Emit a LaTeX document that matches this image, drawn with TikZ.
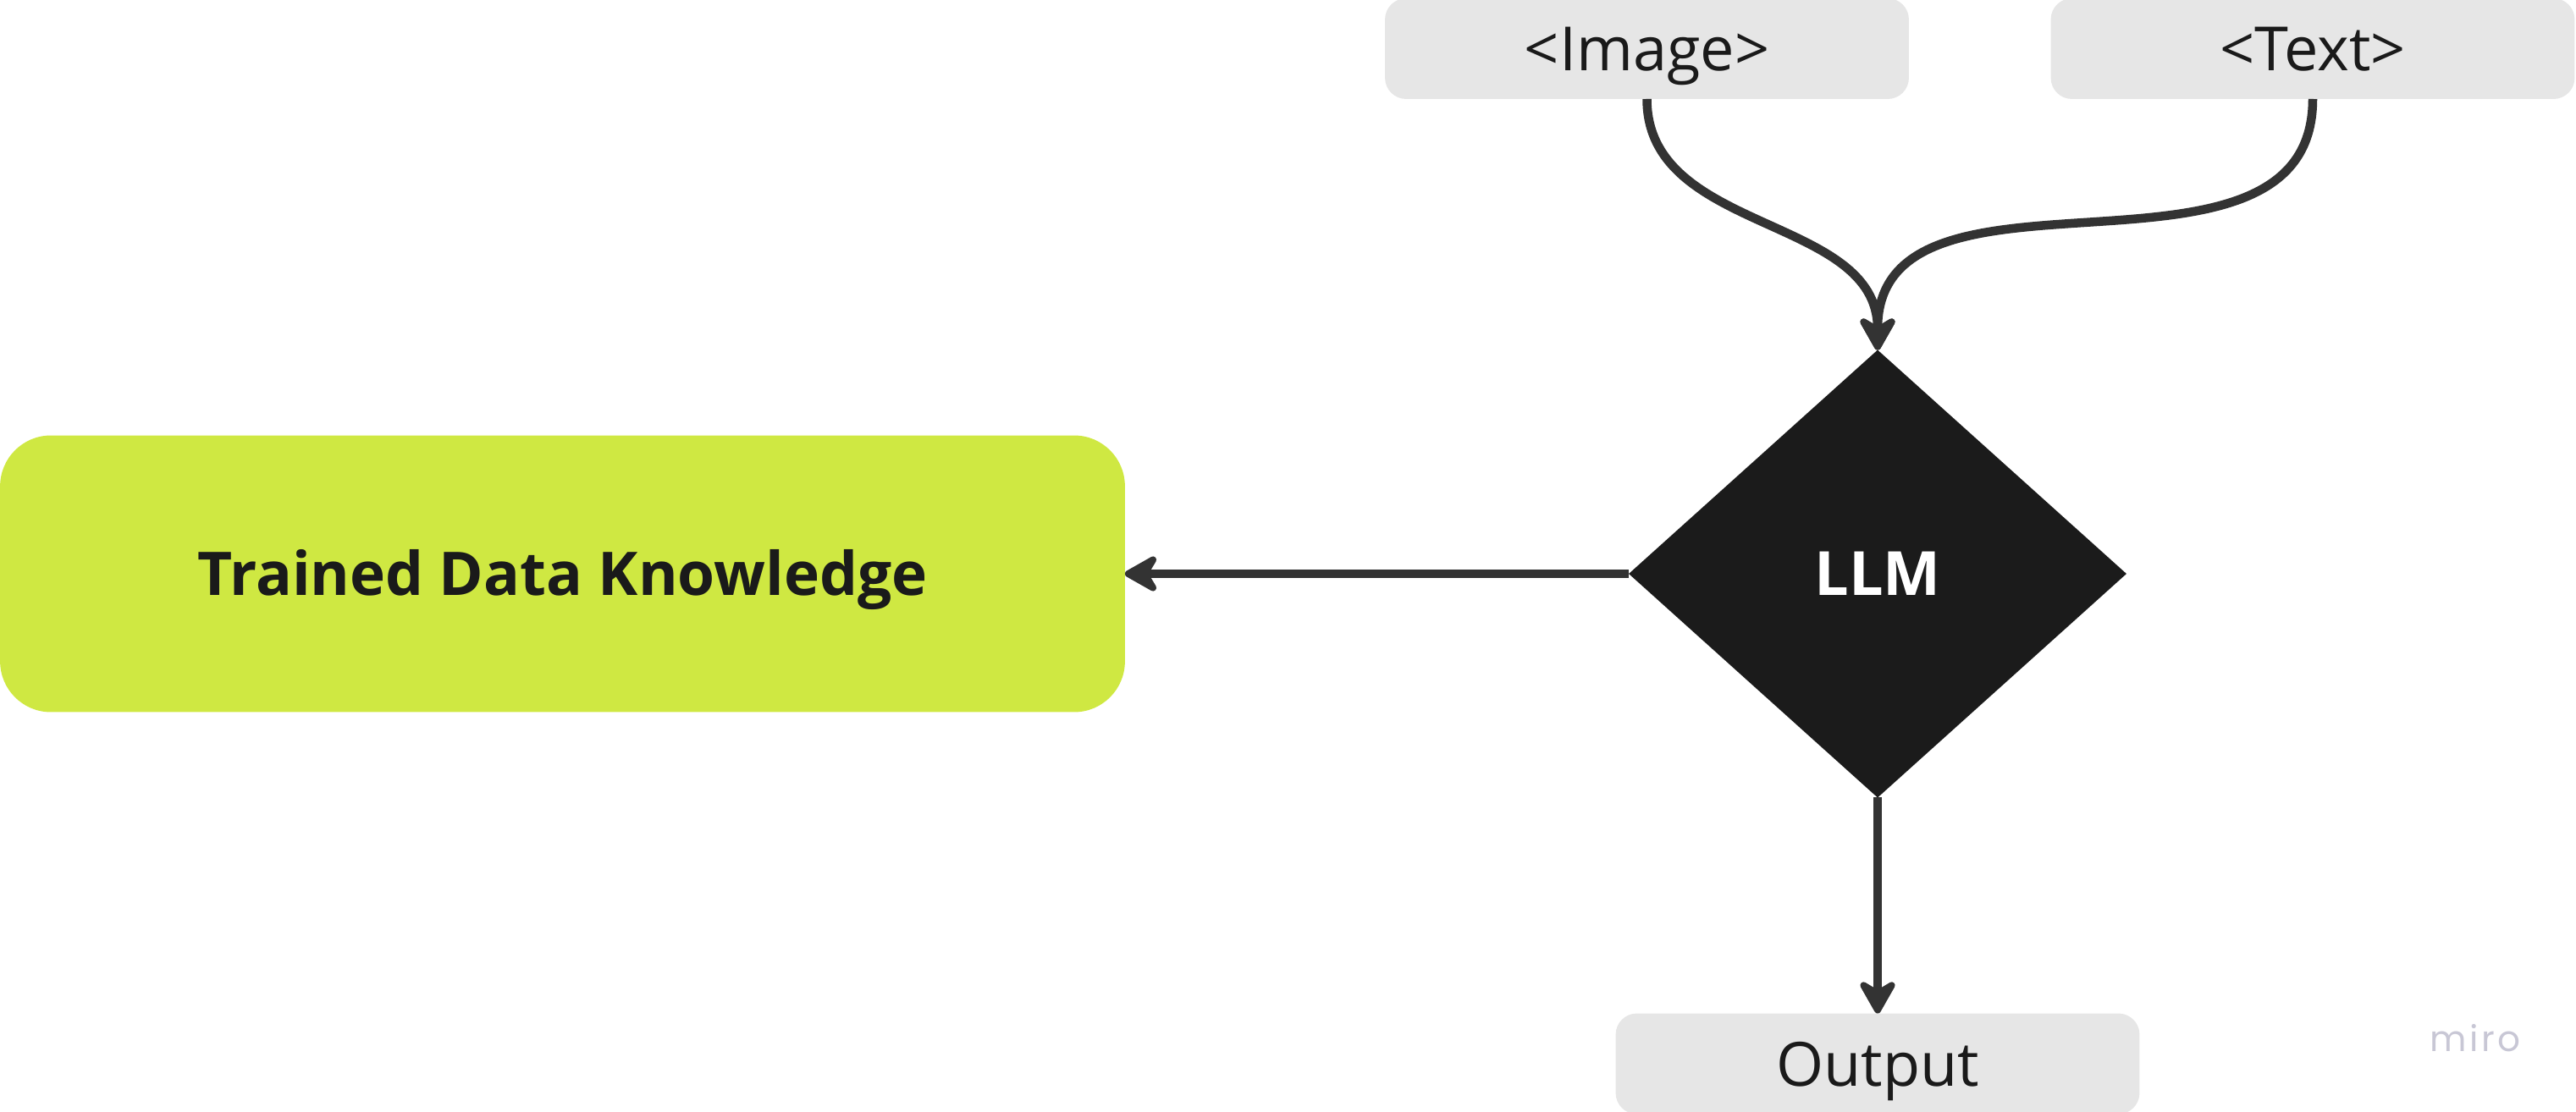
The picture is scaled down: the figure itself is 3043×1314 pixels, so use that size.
\documentclass[tikz,border=0pt]{standalone}
\usepackage{fontspec}
\setmainfont{Open Sans}
\newfontfamily\mirofont[LetterSpace=8]{Poppins}
\usepackage{tikz}
\usetikzlibrary{shapes.geometric}
\usetikzlibrary{arrows.meta}
\usepackage{xcolor}
\definecolor{boxgray}{HTML}{E6E6E6}
\definecolor{limegreen}{HTML}{CFE842}
\definecolor{llmblack}{HTML}{1B1B1B}
\definecolor{wiregray}{HTML}{333333}
\definecolor{inkblack}{HTML}{1A1A1A}
\definecolor{miroink}{HTML}{C8C7D5}

\begin{document}
\begin{tikzpicture}[x = 0.02cm, y = -0.02cm]
				    \tikzstyle{txt}=[font=\fontsize{41}{49}\selectfont, text height=1.04cm, text depth=0pt, inner sep=0pt, outer sep=0pt]
				    \tikzstyle{io}=[txt, fill=boxgray, text=inkblack, rounded corners=0.5cm, minimum width=12.38cm, minimum height=2.38cm]
				    \tikzstyle{knowledge}=[txt, fill=limegreen, text=inkblack, rounded corners=1.2cm, minimum width=26.58cm, minimum height=6.54cm, font=\fontsize{40.5}{49}\selectfont\bfseries]
				    \tikzstyle{model}=[txt, diamond, fill=llmblack, text=white, minimum width=11.76cm, minimum height=10.58cm, font=\fontsize{41}{49}\selectfont\bfseries]
				    \tikzstyle{wire}=[draw=wiregray, line width=0.21cm, -{Stealth[length=0.96cm, width=1.08cm, inset=0.32cm, round]}]
				    \useasboundingbox (0,0) rectangle (3043,1314);
				    \node[io] (image) at (1945.5, 57.5) {<Image>};
				    \node[io] (text) at (2732, 57.5) {<Text>};
				    \node[model] (llm) at (2218, 678) {LLM};
				    \node[knowledge] (tdk) at (664.5, 678) {Trained Data Knowledge};
				    \node[io] (out) at (2218, 1257) {Output};
				    \node[font=\mirofont\fontsize{24}{28}\selectfont, text=miroink, inner sep=0pt] (miro) at (2924, 1227) {miro};
				    \draw[wire] (image.south) .. controls +(0,160) and +(0,-160) .. (llm.north);
				    \draw[wire] (text.south) .. controls +(0,250) and +(0,-250) .. (llm.north);
				    \draw[wire] (llm.west) -- (tdk.east);
				    \draw[wire] (llm.south) -- (out.north);
				\end{tikzpicture}
\end{document}
